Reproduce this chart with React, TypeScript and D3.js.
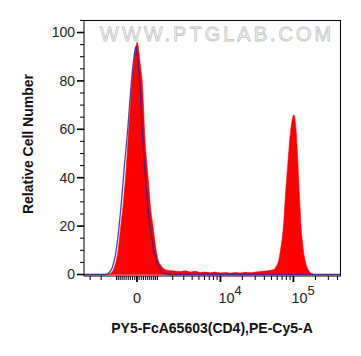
import React from "react";
import * as d3 from "d3";

// Fluorescence values (PE-Cy5-A) and relative counts
const sampleX = [-3700, -1686, -1357, -1175, -1003, -893, -789, -635, -489, -378, -299, -220, -160, -101, -46, 9, 59, 114, 174, 239, 299, 346, 440, 537, 635, 788, 893, 1003, 1174, 1356, 1616, 1987, 2681, 3190, 3779, 4462, 5259, 6186, 7269, 8522, 9995, 11730, 13750, 16100, 18850, 22080, 25850, 30260, 35440, 41500, 48600, 53400, 58700, 62500, 66550, 70900, 74300, 77870, 82940, 86900, 91200, 95600, 101200, 105100, 108500, 111900, 115500, 119200, 123000, 126900, 133100, 139600, 146300, 155800, 165900, 176700, 200400, 440000];
const sampleY = [0, 0, 0.5, 2, 6, 11, 18.5, 30, 45, 60, 70, 80, 86, 90, 94, 96, 94, 90, 85, 80, 70, 60, 48, 38, 28, 18.5, 12, 7, 4, 2.5, 1.8, 1.5, 1.2, 1.5, 1.0, 1.3, 0.8, 1.0, 0.7, 1.0, 0.6, 0.8, 0.5, 0.8, 0.6, 0.9, 0.7, 1.0, 1.2, 1.4, 1.8, 2, 3.5, 5.5, 10, 16, 23, 33, 44, 52, 59, 63.5, 66, 64, 60, 53, 45, 36, 28, 20, 13, 8, 5, 2.5, 1, 0.3, 0, 0];

const controlX = [-3700, -1686, -1483, -1234, -1060, -877, -737, -586, -426, -322, -229, -146, -55, 0, 68, 137, 239, 322, 417, 513, 635, 788, 947, 1115, 1356, 1824, 440000];
const controlY = [0, 0, 0.5, 3, 8, 18.5, 30, 45, 60, 72, 82, 89, 94, 92, 86, 78, 60, 48, 37, 28, 18.5, 11, 6, 3, 0.5, 0, 0];

const xMajorTicks = [0, 10000, 100000];
const xTickBase = ["0", "10", "10"];
const xTickExp = ["", "4", "5"];
const xMinorTicks = [-3000, -2000, -1000, -900, -800, -700, -600, -500, -400, -300, -200, -100, 100, 200, 300, 400, 500, 600, 700, 800, 900, 1000, 2000, 3000, 4000, 5000, 6000, 7000, 8000, 9000, 20000, 30000, 40000, 50000, 60000, 70000, 80000, 90000, 200000, 300000, 400000];

const yMajorTicks = [0, 20, 40, 60, 80, 100];
const yMinorTicks = [5, 10, 15, 25, 30, 35, 45, 50, 55, 65, 70, 75, 85, 90, 95, 105];

const xTitle = "PY5-FcA65603(CD4),PE-Cy5-A";
const yTitle = "Relative Cell Number";
const watermark = "WWW.PTGLAB.COM";

const W = 361, H = 356;
const left = 84, right = 340.5, top = 20.5, bottom = 276;
const xMin = -3700, xMax = 440000, cofactor = 1450;

export default function App() {
  const T = (v: number) => Math.asinh(v / cofactor);
  const xLin = d3.scaleLinear().domain([T(xMin), T(xMax)]).range([left, right]);
  const x = (v: number) => xLin(T(v));
  const y = d3.scaleLinear().domain([0, 100]).range([274.5, 32.5]);

  const sample = sampleX.map((v, i) => [v, sampleY[i]] as [number, number]);
  const control = controlX.map((v, i) => [v, controlY[i]] as [number, number]);

  const area = d3.area<[number, number]>()
    .x(d => x(d[0]))
    .y0(y(0))
    .y1(d => y(d[1]))
    .curve(d3.curveMonotoneX);
  const line = d3.line<[number, number]>()
    .x(d => x(d[0]))
    .y(d => y(d[1]))
    .curve(d3.curveMonotoneX);

  const font = "'Liberation Sans', Arial, sans-serif";

  return (
    <svg width={W} height={H} style={{ position: "absolute", left: 0, top: 0, background: "#fff" }} fontFamily={font}>
      <defs>
        <clipPath id="plotClip">
          <rect x={left} y={top} width={right - left} height={bottom - top} />
        </clipPath>
      </defs>
      <rect x={0} y={0} width={W} height={H} fill="#fff" />
      <text x={100} y={41} fontSize={20} letterSpacing={3} fill="#f6f6f6" stroke="#c4c4c4" strokeWidth={0.8}>{watermark}</text>
      <g clipPath="url(#plotClip)">
        <path d={area(sample) || ""} fill="#ff0000" stroke="#ff0000" strokeWidth={0.6} />
        <path d={line(control) || ""} fill="none" stroke="#33239a" strokeWidth={1.3} strokeOpacity={0.85} />
      </g>
      <rect x={left} y={top} width={right - left} height={bottom - top} fill="none" stroke="#000" strokeWidth={1} />
      {yMajorTicks.map((t) => (
        <g key={"ym" + t}>
          <line x1={left - 7} x2={left} y1={y(t)} y2={y(t)} stroke="#000" strokeWidth={1.6} />
          <text x={75} y={y(t)} dy="0.35em" textAnchor="end" fontSize={14} fill="#222">{t}</text>
        </g>
      ))}
      {yMinorTicks.map((t) => (
        <line key={"yn" + t} x1={left - 4} x2={left} y1={y(t)} y2={y(t)} stroke="#000" strokeWidth={1} />
      ))}
      {xMinorTicks.map((t) => (
        <line key={"xn" + t} x1={x(t)} x2={x(t)} y1={bottom} y2={bottom + 4} stroke="#000" strokeWidth={1} />
      ))}
      {xMajorTicks.map((t, i) => (
        <g key={"xm" + t}>
          <line x1={x(t)} x2={x(t)} y1={bottom} y2={bottom + 6} stroke="#000" strokeWidth={1.8} />
          {xTickExp[i] === "" ? (
            <text x={x(t)} y={302.5} textAnchor="middle" fontSize={14.5} fill="#222">{xTickBase[i]}</text>
          ) : (
            <text x={x(t) - 2} y={302.5} fontSize={14.5} fill="#222">
              {xTickBase[i]}
              <tspan dy={-8} fontSize={13}>{xTickExp[i]}</tspan>
            </text>
          )}
        </g>
      ))}
      <text x={212} y={333} textAnchor="middle" fontSize={14} fontWeight="bold" fill="#111">{xTitle}</text>
      <text transform="translate(32.5,144) rotate(-90)" textAnchor="middle" fontSize={14} fontWeight="bold" fill="#111">{yTitle}</text>
    </svg>
  );
}
